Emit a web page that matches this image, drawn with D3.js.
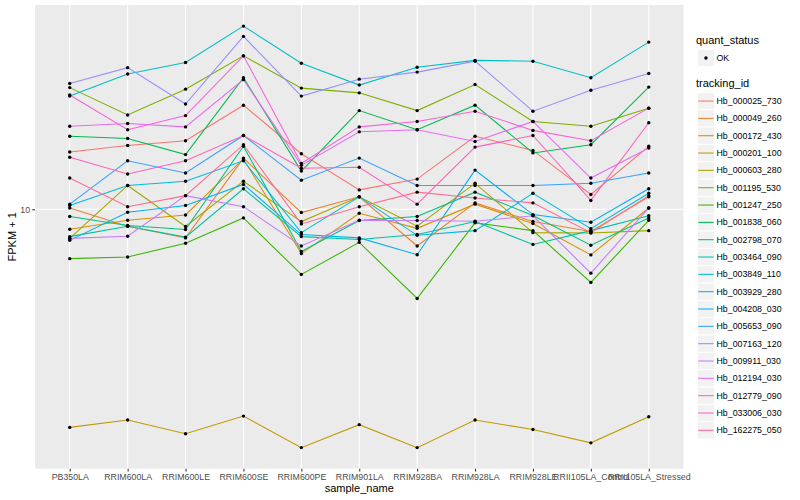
<!DOCTYPE html>
<html><head><meta charset="utf-8">
<script src="https://cdn.jsdelivr.net/npm/d3@7"></script>
<style>
body{margin:0;background:#fff}
text{font-family:"Liberation Sans",Arial,Helvetica,sans-serif}
</style>
</head><body>
<svg id="chart" width="800" height="500"></svg>
<script>
// ---- data (FPKM + 1) ----
const samples = ["PB350LA","RRIM600LA","RRIM600LE","RRIM600SE","RRIM600PE","RRIM901LA","RRIM928BA","RRIM928LA","RRIM928LE","RRII105LA_Control","RRII105LA_Stressed"];
const trackingIds = ["Hb_000025_730","Hb_000049_260","Hb_000172_430","Hb_000201_100","Hb_000603_280","Hb_001195_530","Hb_001247_250","Hb_001838_060","Hb_002798_070","Hb_003464_090","Hb_003849_110","Hb_003929_280","Hb_004208_030","Hb_005653_090","Hb_007163_120","Hb_009911_030","Hb_012194_030","Hb_012779_090","Hb_033006_030","Hb_162275_050"];
const hb_000025_730 = [15.5, 16.3, 16.9, 22.2, 15.3, 11.6, 12.6, 17.5, 15.7, 11.2, 16.2];
const hb_000049_260 = [10.1, 8.78, 8.03, 14.8, 9.75, 11.0, 7.55, 10.5, 9.10, 8.43, 11.0];
const hb_000172_430 = [8.58, 9.19, 9.57, 14.7, 7.12, 9.70, 8.64, 10.4, 8.96, 7.05, 10.1];
const hb_000201_100 = [1.88, 1.99, 1.79, 2.05, 1.61, 1.92, 1.61, 1.99, 1.85, 1.67, 2.04];
const hb_000603_280 = [8.00, 12.0, 8.76, 12.4, 9.10, 11.0, 8.78, 12.2, 8.36, 8.34, 8.49];
const hb_001195_530 = [25.4, 20.6, 25.1, 32.4, 25.3, 24.4, 21.3, 26.0, 19.6, 18.9, 21.7];
const hb_001247_250 = [6.85, 6.94, 7.71, 9.36, 6.07, 7.76, 5.05, 9.01, 8.49, 5.71, 9.19];
const hb_001838_060 = [17.5, 17.2, 15.2, 27.4, 13.4, 21.3, 18.4, 22.2, 15.4, 16.4, 25.5];
const hb_002798_070 = [9.46, 8.83, 8.56, 16.2, 7.24, 9.17, 9.46, 11.4, 9.53, 7.59, 9.36];
const hb_003464_090 = [8.11, 8.78, 8.08, 11.7, 8.11, 7.93, 8.24, 9.10, 7.64, 8.49, 9.51];
const hb_003849_110 = [23.8, 28.2, 30.8, 40.7, 30.6, 25.9, 29.7, 31.3, 31.1, 27.4, 36.0];
const hb_003929_280 = [10.3, 12.0, 12.4, 14.5, 8.36, 11.0, 8.19, 8.49, 11.3, 8.62, 11.3];
const hb_004208_030 = [7.88, 9.77, 10.3, 12.1, 8.24, 8.03, 7.06, 13.5, 9.60, 9.05, 11.7];
const hb_005653_090 = [10.4, 14.5, 13.2, 17.6, 12.5, 14.8, 12.0, 12.0, 12.0, 12.2, 13.2];
const hb_007163_120 = [26.2, 29.6, 22.4, 37.6, 23.8, 27.1, 28.6, 31.1, 21.2, 24.9, 28.3];
const hb_009911_030 = [8.00, 8.13, 11.1, 10.2, 7.55, 9.19, 9.17, 9.12, 9.51, 6.13, 10.1];
const hb_012194_030 = [18.9, 19.3, 18.8, 27.0, 14.0, 18.1, 18.4, 16.8, 19.6, 12.7, 16.0];
const hb_012779_090 = [24.0, 18.4, 20.5, 32.4, 14.2, 18.8, 19.6, 21.2, 18.3, 16.9, 21.7];
const hb_033006_030 = [14.9, 13.1, 14.5, 17.6, 13.7, 13.8, 10.4, 16.1, 17.6, 10.7, 19.4];
const hb_162275_050 = [12.7, 10.2, 11.1, 16.4, 8.94, 10.2, 11.4, 10.9, 10.5, 8.36, 11.1];
const yTicks = [10];
const quantStatus = ["OK"];
const palette = ["#F8766D","#EA8331","#D89000","#C09B00","#A3A500","#7CAE00","#39B600","#00BB4E","#00BF7D","#00C1A3","#00BFC4","#00BAE0","#00B0F6","#35A2FF","#9590FF","#C77CFF","#E76BF3","#FA62DB","#FF62BC","#FF6C91"];

const valueLists = [hb_000025_730,hb_000049_260,hb_000172_430,hb_000201_100,hb_000603_280,hb_001195_530,hb_001247_250,hb_001838_060,hb_002798_070,hb_003464_090,hb_003849_110,hb_003929_280,hb_004208_030,hb_005653_090,hb_007163_120,hb_009911_030,hb_012194_030,hb_012779_090,hb_033006_030,hb_162275_050];
const series = trackingIds.map((id,i)=>({id, color: palette[i], values: valueLists[i].map((v,j)=>({s: samples[j], v}))}));

// ---- layout ----
const svg = d3.select("#chart");
const P = {l: 35, r: 683.5, t: 5, b: 468.7};
svg.append("rect").attr("width",800).attr("height",500).attr("fill","#fff");
svg.append("rect").attr("x",P.l).attr("y",P.t).attr("width",P.r-P.l).attr("height",P.b-P.t).attr("fill","#EBEBEB");

const x = d3.scalePoint().domain(samples).range([P.l, P.r]).padding(0.6);
const allV = valueLists.flat();
const lo = Math.log10(d3.min(allV)), hi = Math.log10(d3.max(allV));
const pad = (hi - lo) * 0.05;
const y = d3.scaleLog().domain([Math.pow(10, lo - pad), Math.pow(10, hi + pad)]).range([P.b, P.t]);

// grid
const grid = svg.append("g");
grid.selectAll("line.gx").data(samples).join("line")
  .attr("x1", d=>x(d)).attr("x2", d=>x(d)).attr("y1", P.t).attr("y2", P.b)
  .attr("stroke","#fff").attr("stroke-width",1.07);
grid.selectAll("line.gy").data(yTicks).join("line")
  .attr("x1", P.l).attr("x2", P.r).attr("y1", d=>y(d)).attr("y2", d=>y(d))
  .attr("stroke","#fff").attr("stroke-width",1.07);

// lines
const line = d3.line().x(d=>x(d.s)).y(d=>y(d.v));
svg.append("g").selectAll("path").data(series).join("path")
  .attr("d", d=>line(d.values)).attr("fill","none")
  .attr("stroke", d=>d.color).attr("stroke-width",1.07);

// points
svg.append("g").selectAll("circle").data(series.flatMap(s=>s.values)).join("circle")
  .attr("cx", d=>x(d.s)).attr("cy", d=>y(d.v)).attr("r",1.7).attr("fill","#000");

// axes
const xAxis = svg.append("g").attr("transform",`translate(0,${P.b})`)
  .call(d3.axisBottom(x).tickSize(2.75).tickPadding(2.2));
const yAxis = svg.append("g").attr("transform",`translate(${P.l},0)`)
  .call(d3.axisLeft(y).tickValues(yTicks).tickFormat(d3.format("d")).tickSize(2.75).tickPadding(2.2));
[xAxis, yAxis].forEach(a=>{
  a.select(".domain").remove();
  a.selectAll(".tick line").attr("stroke","#333").attr("stroke-width",1.07);
  a.selectAll(".tick text").attr("fill","#4D4D4D").style("font-size","8.8px")
    .style("font-family",'"Liberation Sans",Arial,Helvetica,sans-serif');
});

// axis titles
svg.append("text").attr("x",(P.l+P.r)/2).attr("y",492).attr("text-anchor","middle")
  .style("font-size","11px").attr("fill","#000").text("sample_name");
svg.append("text").attr("transform",`translate(15.5,${(P.t+P.b)/2}) rotate(-90)`).attr("text-anchor","middle")
  .style("font-size","11px").attr("fill","#000").text("FPKM + 1");

// legend
const lg = svg.append("g");
const kx = 697.3, kw = 17.3;
lg.append("text").attr("x",696).attr("y",43.5).style("font-size","11px").text("quant_status");
quantStatus.forEach((q,i)=>{
  const ky = 49.3 + i*kw;
  lg.append("rect").attr("x",kx).attr("y",ky).attr("width",kw).attr("height",kw)
    .attr("fill","#F2F2F2").attr("stroke","#fff").attr("stroke-width",1);
  lg.append("circle").attr("cx",kx+kw/2).attr("cy",ky+kw/2).attr("r",1.7).attr("fill","#000");
  lg.append("text").attr("x",716.5).attr("y",ky+kw/2).attr("dy","0.35em").style("font-size","8.8px").text(q);
});
lg.append("text").attr("x",696).attr("y",86.5).style("font-size","11px").text("tracking_id");
const keys = lg.selectAll("g.key").data(series).join("g").attr("class","key")
  .attr("transform",(d,i)=>`translate(${kx},${92.4 + i*17.33})`);
keys.append("rect").attr("width",kw).attr("height",kw).attr("fill","#F2F2F2").attr("stroke","#fff").attr("stroke-width",1);
keys.append("line").attr("x1",1).attr("x2",kw-1).attr("y1",kw/2).attr("y2",kw/2)
  .attr("stroke",d=>d.color).attr("stroke-width",1.07);
keys.append("text").attr("x",716.5-kx).attr("y",kw/2).attr("dy","0.35em").style("font-size","8.8px").text(d=>d.id);
</script>
</body></html>
